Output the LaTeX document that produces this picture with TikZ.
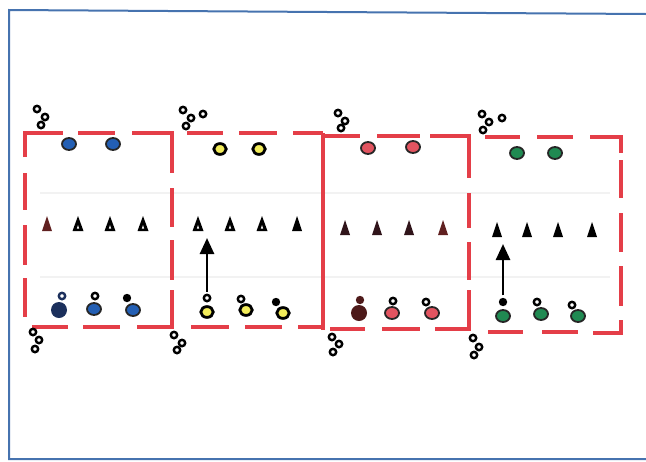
\documentclass[tikz,border=0pt]{standalone}
\usepackage{tikz}
\usetikzlibrary{arrows.meta, shapes.geometric, positioning}

\definecolor{zonered}{RGB}{228,62,72}
\definecolor{framebl}{RGB}{70,115,175}
\definecolor{plblue}{RGB}{35,95,180}
\definecolor{plnavy}{RGB}{28,48,92}
\definecolor{plyellow}{RGB}{242,236,90}
\definecolor{plred}{RGB}{226,84,96}
\definecolor{plbrown}{RGB}{78,26,26}
\definecolor{plgreen}{RGB}{32,138,82}
\definecolor{conebrown}{RGB}{96,32,32}
\definecolor{conedark}{RGB}{48,20,26}

\begin{document}
\begin{tikzpicture}[x=0.5pt,y=-0.5pt,
    zone/.style={zonered, line width=2.2pt},
    pl/.style={ellipse, draw=black!85, line width=0.9pt, minimum width=7pt, minimum height=6pt, inner sep=0pt},
    ply/.style={ellipse, draw=black, line width=1.4pt, fill=plyellow, minimum width=6.2pt, minimum height=5.4pt, inner sep=0pt},
    big/.style={circle, minimum size=8pt, inner sep=0pt},
    ring/.style={circle, draw=black, line width=1.2pt, minimum size=3.2pt, inner sep=0pt},
    dot/.style={circle, fill=black, minimum size=4.2pt, inner sep=0pt},
    run/.style={-{Triangle[length=8pt,width=7pt]}, line width=1.3pt, shorten <=1pt, shorten >=3.5pt},
    pics/cone/.style={code={
        \fill[#1] (-5,7) -- (0,-8) -- (5,7) -- cycle;
        \coordinate (-base) at (0,7);}},
    pics/hcone/.style={code={
        \fill[black] (-5.5,7) -- (0,-8) -- (5.5,7) -- cycle;
        \fill[white] (-1.1,4.5) -- (0,1) -- (1.1,4.5) -- cycle;
        \coordinate (-base) at (0,7);}}]
    \useasboundingbox (0,0) rectangle (646,461);
    % frame
    \draw[framebl, line width=1pt] (646,14) -- (9,10) -- (9,459) -- (646,459);
    % faint field lines
    \draw[black!5, line width=0.6pt] (40,193) -- (610,193);
    \draw[black!5, line width=0.6pt] (40,277) -- (610,277);

    % zone 1
    \draw[zone] (25,157) -- (25,133) -- (63,133);
    \draw[zone] (78,133) -- (115,133);
    \draw[zone] (132,133) -- (172,133) -- (172,173);
    \foreach \ya/\yb in {173/210,225/265,278/317} \draw[zone] (25,\ya) -- (25,\yb);
    \foreach \ya/\yb in {188/227,240/280} \draw[zone] (172,\ya) -- (172,\yb);
    \draw[zone] (172,290) -- (172,327) -- (137,327);
    \foreach \xa/\xb in {32/68,83/120} \draw[zone] (\xa,327) -- (\xb,327);
    % zone 2
    \foreach \xa/\xb in {187/223,239/277,293/323} \draw[zone] (\xa,133) -- (\xb,133);
    \foreach \xa/\xb in {191/229,245/282,298/323} \draw[zone] (\xa,327) -- (\xb,327);
    \draw[zone] (323,133) -- (323,330);
    % zone 3
    \foreach \xa/\xb in {323/360,377/420} \draw[zone] (\xa,136) -- (\xb,136);
    \draw[zone] (430,136) -- (469,136) -- (469,178);
    \foreach \ya/\yb in {193/228,242/280} \draw[zone] (469,\ya) -- (469,\yb);
    \draw[zone] (469,290) -- (469,329) -- (435,329);
    \foreach \xa/\xb in {330/365,382/420} \draw[zone] (\xa,329) -- (\xb,329);
    % zone 4
    \foreach \xa/\xb in {485/520,537/573} \draw[zone] (\xa,137) -- (\xb,137);
    \draw[zone] (590,137) -- (621,137) -- (621,153);
    \foreach \ya/\yb in {160/198,213/252,266/306} \draw[zone] (621,\ya) -- (621,\yb);
    \draw[zone] (621,320) -- (621,333) -- (593,333);
    \foreach \xa/\xb in {488/523,542/578} \draw[zone] (\xa,332) -- (\xb,332);

    % corner markers
    \foreach \x/\y [count=\i] in {37/109,45/117,41/125, 183/110,191/118,186/126,203/114,
        33/332,39/340,35/349, 174/335,182/343,177/350, 338/113,345/121,341/128,
        332/337,339/344,333/352, 482/114,489/122,483/130,502/118, 473/338,479/347,474/355}
        \node[ring] (m\i) at (\x,\y) {};

    % cones
    \pic (c1a) at (47,224) {cone=conebrown};
    \pic (c1b) at (78,224) {hcone};
    \pic (c1c) at (110,224) {hcone};
    \pic (c1d) at (143,224) {hcone};
    \pic (c2a) at (198,224) {hcone};
    \pic (c2b) at (230,224) {hcone};
    \pic (c2c) at (262,224) {hcone};
    \pic (c2d) at (297,224) {cone=black};
    \pic (c3a) at (345,228) {cone=conedark};
    \pic (c3b) at (377,228) {cone=conedark};
    \pic (c3c) at (409,228) {cone=conedark};
    \pic (c3d) at (443,228) {cone=conebrown};
    \pic (c4a) at (497,230) {cone=black};
    \pic (c4b) at (527,230) {cone=black};
    \pic (c4c) at (558,230) {cone=black};
    \pic (c4d) at (592,230) {cone=black};

    % zone 1 players
    \node[pl, fill=plblue] (b1) at (69,144) {};
    \node[pl, fill=plblue] (b2) at (113,144) {};
    \node[big, fill=plnavy] (b3) at (59,310) {};
    \node[ring, draw=plnavy] (r1a) at (62,296) {};
    \node[pl, fill=plblue] (b4) at (94,309) {};
    \node[ring] (r1b) at (95,296) {};
    \node[pl, fill=plblue] (b5) at (133,310) {};
    \node[dot] (r1c) at (127,298) {};
    % zone 2 players
    \node[ply] (y1) at (220,149) {};
    \node[ply] (y2) at (259,149) {};
    \node[ply] (y3) at (207,312) {};
    \node[ring] (r2a) at (207,298) {};
    \node[ply] (y4) at (246,310) {};
    \node[ring] (r2b) at (241,299) {};
    \node[ply] (y5) at (283,313) {};
    \node[dot] (r2c) at (276,302) {};
    % zone 3 players
    \node[pl, fill=plred] (e1) at (368,148) {};
    \node[pl, fill=plred] (e2) at (413,147) {};
    \node[big, fill=plbrown] (e3) at (359,313) {};
    \node[dot, fill=plbrown] (r3a) at (360,300) {};
    \node[pl, fill=plred] (e4) at (392,313) {};
    \node[ring] (r3b) at (393,301) {};
    \node[pl, fill=plred] (e5) at (432,313) {};
    \node[ring] (r3c) at (426,302) {};
    % zone 4 players
    \node[pl, fill=plgreen] (g1) at (517,153) {};
    \node[pl, fill=plgreen] (g2) at (555,153) {};
    \node[pl, fill=plgreen] (g3) at (503,316) {};
    \node[dot] (r4a) at (503,302) {};
    \node[pl, fill=plgreen] (g4) at (541,314) {};
    \node[ring] (r4b) at (537,302) {};
    \node[pl, fill=plgreen] (g5) at (578,316) {};
    \node[ring] (r4c) at (572,305) {};

    % runs
    \draw[run] (r2a.north) -- (r2a.north |- c2a-base);
    \draw[run] (r4a.north) -- (r4a.north |- c4a-base);
\end{tikzpicture}
\end{document}
